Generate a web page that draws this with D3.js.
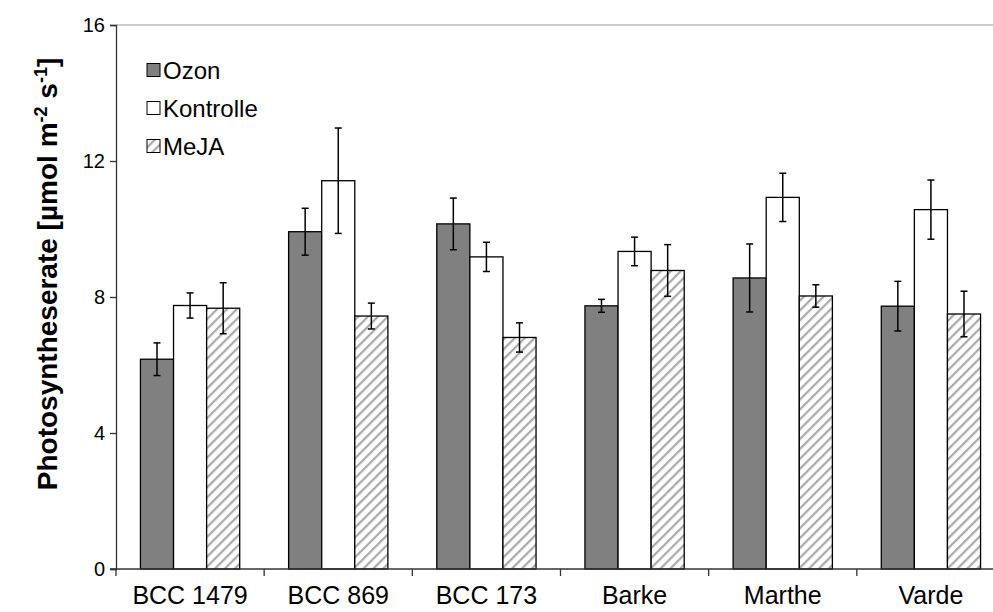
<!DOCTYPE html>
<html>
<head>
<meta charset="utf-8">
<script src="https://cdn.jsdelivr.net/npm/d3@7"></script>
<style>
  body { margin: 0; background: #fff; }
  svg { display: block; font-family: Arial, "Liberation Sans", sans-serif; }
</style>
</head>
<body>
<svg id="chart"></svg>
<script>
// data
const cultivars = ["BCC 1479", "BCC 869", "BCC 173", "Barke", "Marthe", "Varde"];
const treatments = ["Ozon", "Kontrolle", "MeJA"];
const ozon      = [6.17, 9.92, 10.15, 7.74, 8.56, 7.73];
const ozonErr   = [0.48, 0.69, 0.76, 0.19, 1.00, 0.73];
const kontrolle = [7.75, 11.42, 9.18, 9.34, 10.93, 10.57];
const kontrErr  = [0.37, 1.55, 0.43, 0.42, 0.71, 0.87];
const meja      = [7.67, 7.44, 6.81, 8.78, 8.03, 7.50];
const mejaErr   = [0.75, 0.38, 0.43, 0.76, 0.33, 0.67];
const yTicks = [0, 4, 8, 12, 16];

const width = 993, height = 612;
const margin = {top: 25, left: 116, bottom: 43};
const plotRight = 1005;

const svg = d3.select("#chart")
    .attr("width", width)
    .attr("height", height);

const defs = svg.append("defs");
const pat = defs.append("pattern")
    .attr("id", "hatch")
    .attr("patternUnits", "userSpaceOnUse")
    .attr("width", 7)
    .attr("height", 7)
    .attr("patternTransform", "rotate(45)");
pat.append("rect").attr("width", 7).attr("height", 7).attr("fill", "#fff");
pat.append("line")
    .attr("x1", 0).attr("y1", 0).attr("x2", 0).attr("y2", 7)
    .attr("stroke", "#aaaaaa")
    .attr("stroke-width", 4.5);

const x = d3.scaleBand()
    .domain(cultivars)
    .range([margin.left, plotRight])
    .paddingInner(0.33)
    .paddingOuter(0.165);

const xs = d3.scaleBand()
    .domain(treatments)
    .range([0, x.bandwidth()]);

const y = d3.scaleLinear()
    .domain([0, 16])
    .range([height - margin.bottom, margin.top]);

const fills = {Ozon: "#808080", Kontrolle: "#ffffff", MeJA: "url(#hatch)"};

// build table
const rows = [];
cultivars.forEach((c, i) => {
    rows.push({c, t: "Ozon", v: ozon[i], e: ozonErr[i]});
    rows.push({c, t: "Kontrolle", v: kontrolle[i], e: kontrErr[i]});
    rows.push({c, t: "MeJA", v: meja[i], e: mejaErr[i]});
});

// top border of plot area
svg.append("line")
    .attr("x1", margin.left).attr("x2", plotRight)
    .attr("y1", y(16)).attr("y2", y(16))
    .attr("stroke", "#999").attr("stroke-width", 1);

// bars
svg.append("g").selectAll("rect")
    .data(rows)
    .join("rect")
    .attr("x", d => x(d.c) + xs(d.t))
    .attr("y", d => y(d.v))
    .attr("width", xs.bandwidth())
    .attr("height", d => y(0) - y(d.v))
    .attr("fill", d => fills[d.t])
    .attr("stroke", "#000")
    .attr("stroke-width", 1.3);

// error bars
const eb = svg.append("g").attr("stroke", "#000").attr("stroke-width", 1.5);
rows.forEach(d => {
    const cx = x(d.c) + xs(d.t) + xs.bandwidth() / 2;
    eb.append("line").attr("x1", cx).attr("x2", cx).attr("y1", y(d.v + d.e)).attr("y2", y(d.v - d.e));
    eb.append("line").attr("x1", cx - 3.5).attr("x2", cx + 3.5).attr("y1", y(d.v + d.e)).attr("y2", y(d.v + d.e));
    eb.append("line").attr("x1", cx - 3.5).attr("x2", cx + 3.5).attr("y1", y(d.v - d.e)).attr("y2", y(d.v - d.e));
});

// y axis
const yAxis = svg.append("g")
    .attr("transform", `translate(${margin.left},0)`)
    .call(d3.axisLeft(y).tickValues(yTicks).tickSize(6).tickPadding(5));
yAxis.select(".domain").attr("stroke", "#333").attr("stroke-width", 1.3);
yAxis.selectAll(".tick line").attr("stroke", "#333").attr("stroke-width", 1.3);
yAxis.selectAll("text").attr("font-size", 20).attr("fill", "#000");

// x axis
const bounds = [margin.left].concat(cultivars.map(c => x(c) + x.bandwidth() + x.step() * x.paddingInner() / 2));
const xAxis = svg.append("g");
xAxis.append("line")
    .attr("x1", margin.left - 6).attr("x2", plotRight)
    .attr("y1", y(0)).attr("y2", y(0))
    .attr("stroke", "#333").attr("stroke-width", 1.3);
xAxis.selectAll(".xt")
    .data(bounds)
    .join("line")
    .attr("x1", d => d).attr("x2", d => d)
    .attr("y1", y(0)).attr("y2", y(0) + 7)
    .attr("stroke", "#333").attr("stroke-width", 1.3);
xAxis.selectAll("text")
    .data(cultivars)
    .join("text")
    .attr("x", d => x(d) + x.bandwidth() / 2)
    .attr("y", y(0) + 35)
    .attr("text-anchor", "middle")
    .attr("font-size", 25)
    .text(d => d);

// y label
const yl = svg.append("text")
    .attr("transform", `translate(57,274) rotate(-90)`)
    .attr("text-anchor", "middle")
    .attr("font-size", 28)
    .attr("font-weight", "bold");
yl.append("tspan").text("Photosyntheserate [µmol m");
yl.append("tspan").attr("dy", -10).attr("font-size", 18).text("-2");
yl.append("tspan").attr("dy", 10).text(" s");
yl.append("tspan").attr("dy", -10).attr("font-size", 18).text("-1");
yl.append("tspan").attr("dy", 10).text("]");

// legend
const lg = svg.append("g").attr("transform", "translate(147,70)");
treatments.forEach((t, i) => {
    const g = lg.append("g").attr("transform", `translate(0,${i * 38})`);
    g.append("rect")
        .attr("x", 0).attr("y", -6.5)
        .attr("width", 13).attr("height", 13)
        .attr("fill", fills[t])
        .attr("stroke", "#000").attr("stroke-width", 1);
    g.append("text")
        .attr("x", 16).attr("y", 8.5)
        .attr("font-size", 24)
        .text(t);
});
</script>
</body>
</html>
